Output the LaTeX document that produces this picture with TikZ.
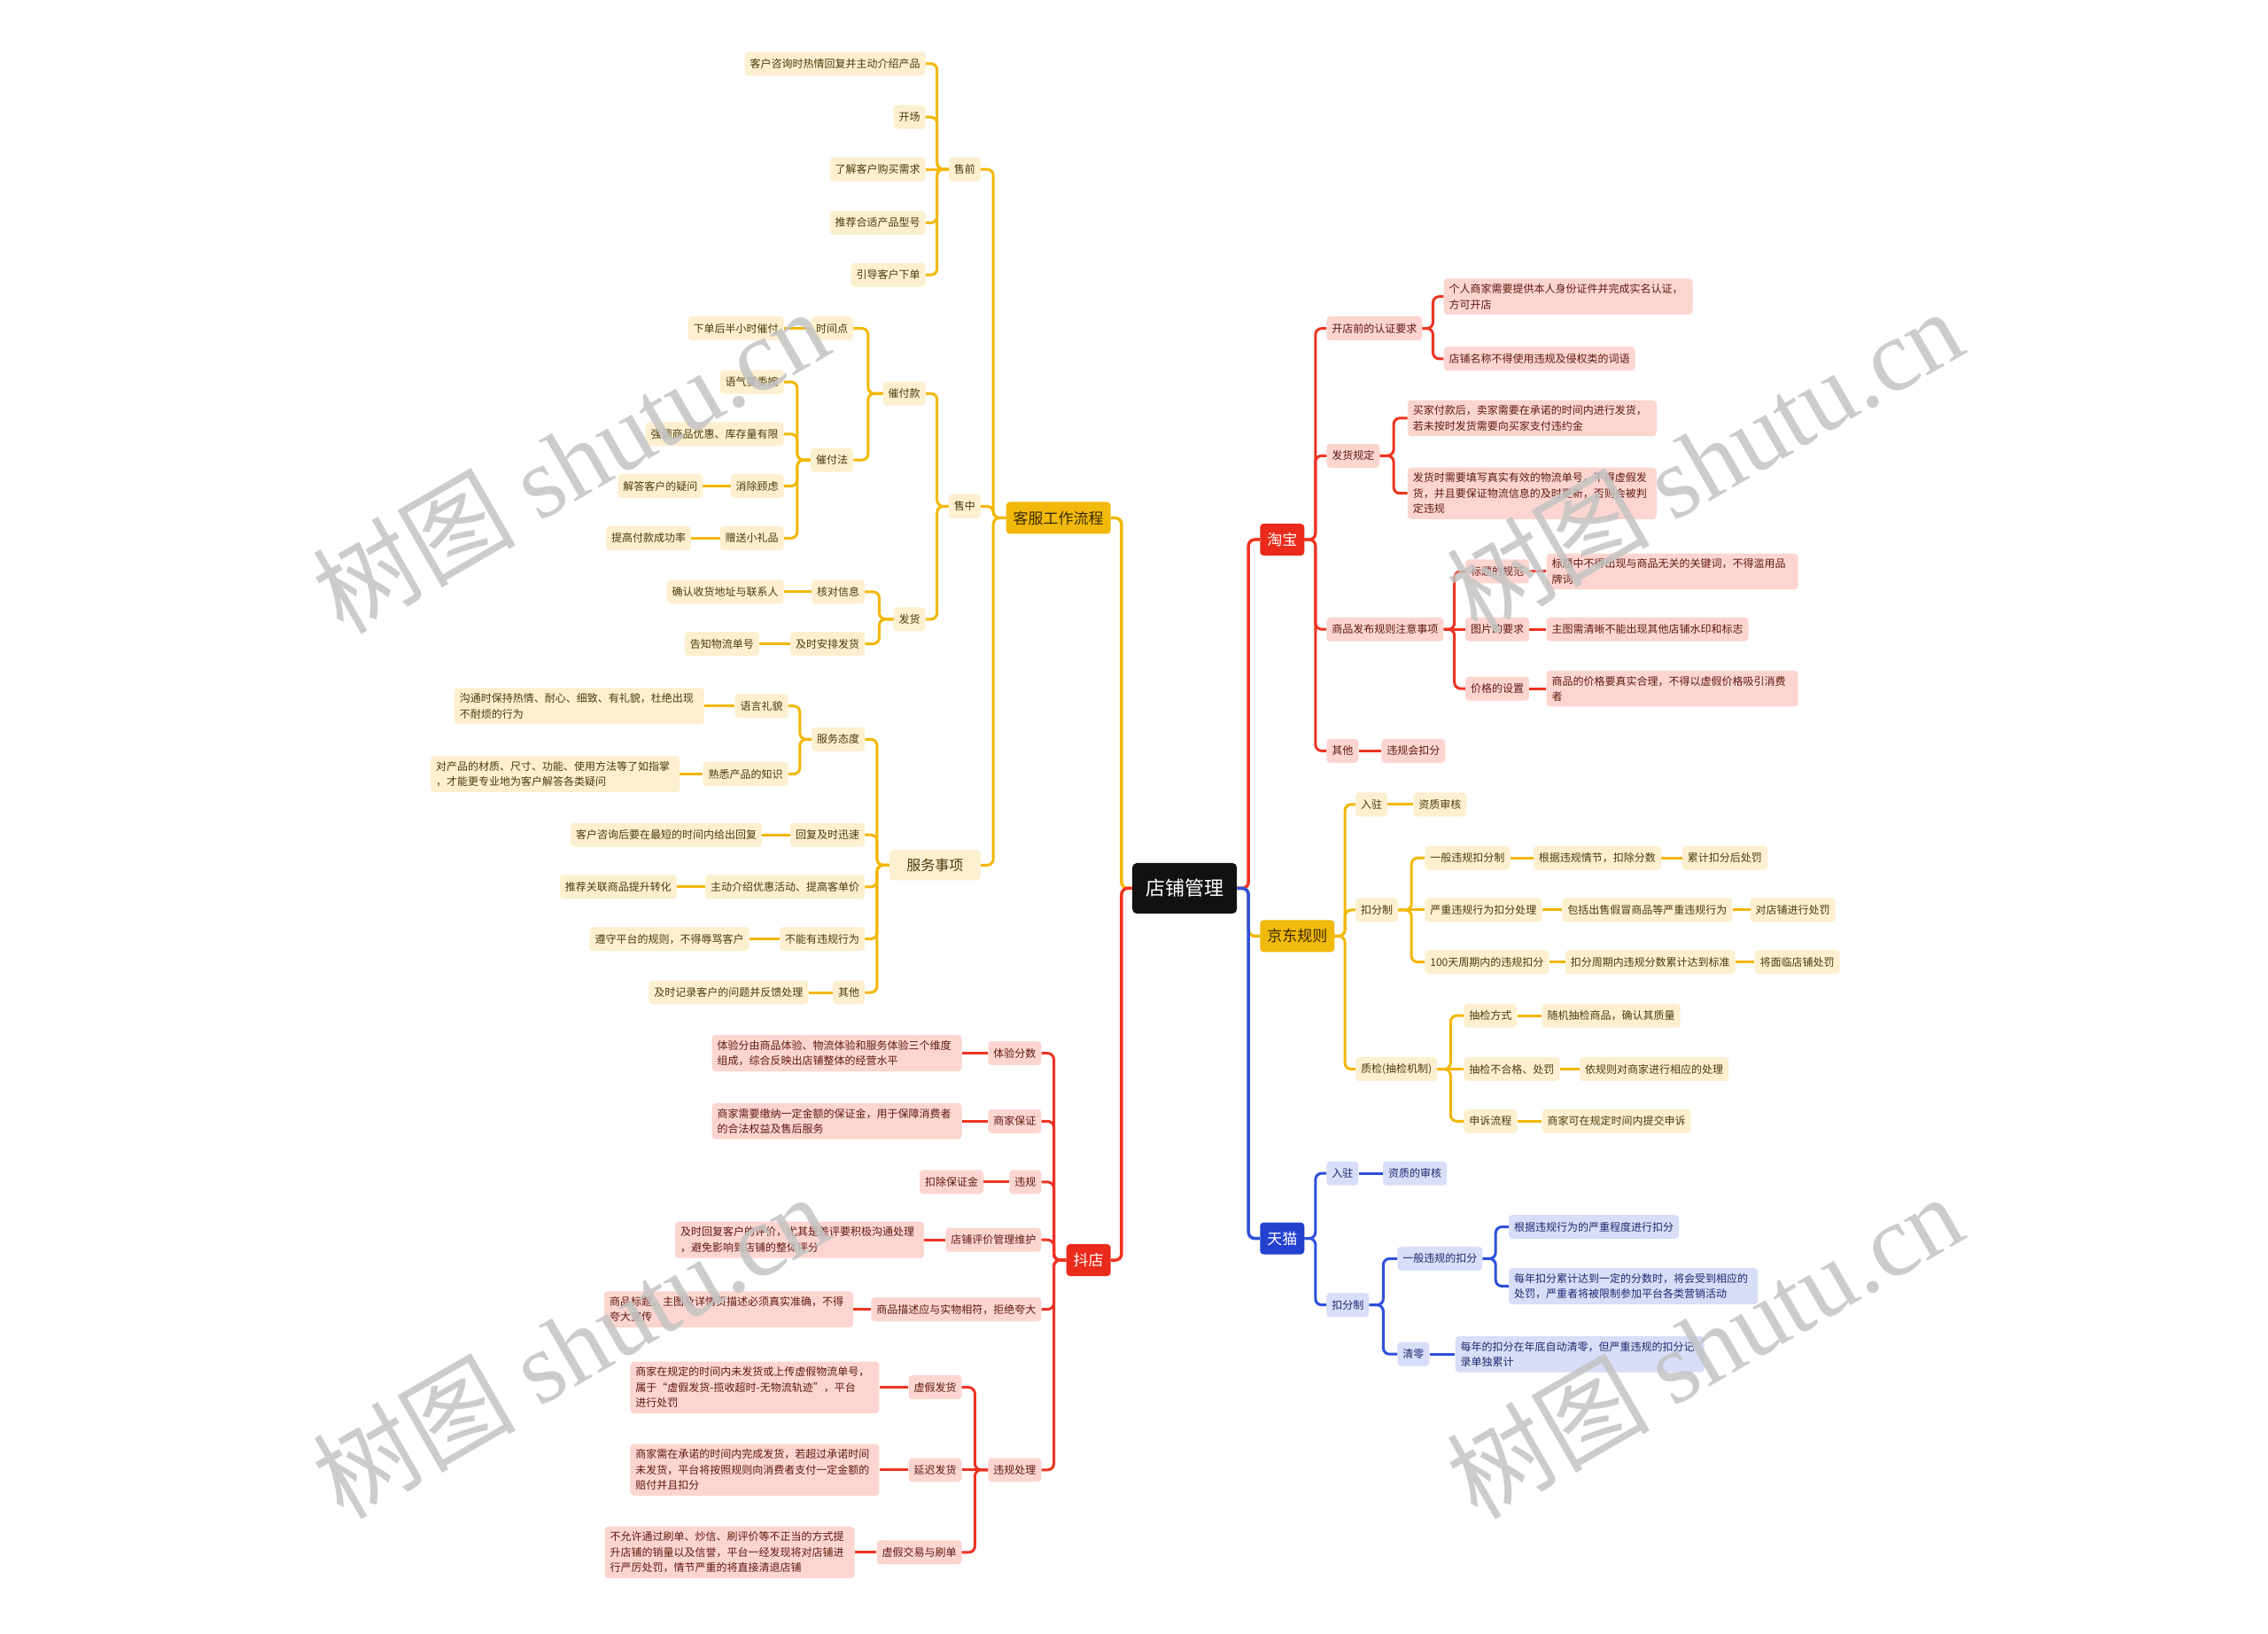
\documentclass[tikz,border=0pt]{standalone}
\usepackage{fontspec}
\setmainfont{Noto Sans CJK SC}
\newfontfamily\wmlat{Liberation Serif}
\usetikzlibrary{calc}
\definecolor{yfill}{HTML}{FDF0D0}
\definecolor{ytext}{HTML}{4A3A0C}
\definecolor{yline}{HTML}{F2B705}
\definecolor{ymain}{HTML}{F0B90B}
\definecolor{rfill}{HTML}{FDD5D0}
\definecolor{rtext}{HTML}{5E1A12}
\definecolor{rline}{HTML}{EE3322}
\definecolor{rmain}{HTML}{EA2A1A}
\definecolor{bfill}{HTML}{D8DDF8}
\definecolor{btext}{HTML}{1E2A6E}
\definecolor{bline}{HTML}{2E4FDC}
\definecolor{bmain}{HTML}{2341CF}
\definecolor{wmc}{HTML}{C4C4C4}
\begin{document}
\begin{tikzpicture}[x=1.6327pt, y=-1.6327pt,
  base/.style={rounded corners=4pt, inner xsep=6pt, inner ysep=6pt, minimum height=27pt, font=\fontsize{12}{17.5}\selectfont, align=left},
  ny/.style={base, fill=yfill, text=ytext},
  nr/.style={base, fill=rfill, text=rtext},
  nb/.style={base, fill=bfill, text=btext},
  le/.style={anchor=east}, ri/.style={anchor=west},
  tw/.style={text width=#1pt},
  lone/.style={rounded corners=4pt, inner xsep=8pt, minimum height=36pt, font=\fontsize{17}{20}\selectfont},
  l1y/.style={lone, fill=ymain, text={rgb,255:red,59;green,42;blue,0}},
  l1r/.style={lone, fill=rmain, text=white},
  l1b/.style={lone, fill=bmain, text=white},
  rootnode/.style={fill={rgb,255:red,17;green,17;blue,17}, text=white, rounded corners=5pt, minimum width=118pt, minimum height=57pt, font=\fontsize{22}{26}\selectfont},
  elbow/.style={to path={let \p1=(\tikztostart), \p2=(\tikztotarget) in -- ({(\x1+\x2)/2},\y1) |- (\tikztotarget)}},
  cy/.style={draw=yline, line width=3pt, rounded corners=7pt},
  cr/.style={draw=rline, line width=3pt, rounded corners=7pt},
  cb/.style={draw=bline, line width=3pt, rounded corners=7pt},
  wm/.style={text=wmc, opacity=0.85, font=\fontsize{115}{120}\selectfont, rotate=30}
]
\useasboundingbox[fill=white] (0,0) rectangle (1568,1129);

% root and level 1
\node[rootnode] (root) at (819,614) {店铺管理};
\node[l1y, anchor=east] (kf) at (768,358) {客服工作流程};
\node[l1r, anchor=west] (tb) at (871,373) {淘宝};
\node[l1y, anchor=west] (jd) at (871,647) {京东规则};
\node[l1b, anchor=west] (tm) at (871,856) {天猫};
\node[l1r, anchor=east] (dd) at (768,871) {抖店};

% 客服工作流程
\node[ny,le] (sq) at (678,117) {售前};
\node[ny,le] (sq1) at (640,44) {客户咨询时热情回复并主动介绍产品};
\node[ny,le] (sq2) at (640,81) {开场};
\node[ny,le] (sq3) at (640,117) {了解客户购买需求};
\node[ny,le] (sq4) at (640,154) {推荐合适产品型号};
\node[ny,le] (sq5) at (640,190) {引导客户下单};

\node[ny,le] (sz) at (678,350) {售中};
\node[ny,le] (fk) at (640,272) {催付款};
\node[ny,le] (fh) at (640,428) {发货};
\node[ny,le] (fa) at (590,227) {时间点};
\node[ny,le] (fa1) at (542,227) {下单后半小时催付};
\node[ny,le] (fb) at (590,318) {催付法};
\node[ny,le] (fb1) at (542,264) {语气要委婉};
\node[ny,le] (fb2) at (542,300) {强调商品优惠、库存量有限};
\node[ny,le] (fb3) at (542,336) {消除顾虑};
\node[ny,le] (fb3a) at (486,336) {解答客户的疑问};
\node[ny,le] (fb4) at (542,372) {赠送小礼品};
\node[ny,le] (fb4a) at (478,372) {提高付款成功率};
\node[ny,le] (fc1) at (598,409) {核对信息};
\node[ny,le] (fc1a) at (542,409) {确认收货地址与联系人};
\node[ny,le] (fc2) at (598,445) {及时安排发货};
\node[ny,le] (fc2a) at (525,445) {告知物流单号};

\node[ny,le,font=\fontsize{16}{19}\selectfont,minimum width=103pt,minimum height=34pt] (fw) at (678,598) {服务事项};
\node[ny,le] (fd) at (598,511) {服务态度};
\node[ny,le] (fd1) at (545,488) {语言礼貌};
\node[ny,le,tw=270] (fd1a) at (487,488) {沟通时保持热情、耐心、细致、有礼貌，杜绝出现\\不耐烦的行为};
\node[ny,le] (fd2) at (545,535) {熟悉产品的知识};
\node[ny,le,tw=269] (fd2a) at (470,535) {对产品的材质、尺寸、功能、使用方法等了如指掌\\，才能更专业地为客户解答各类疑问};
\node[ny,le] (fe) at (598,577) {回复及时迅速};
\node[ny,le] (fe1) at (527,577) {客户咨询后要在最短的时间内给出回复};
\node[ny,le] (ff) at (598,613) {主动介绍优惠活动、提高客单价};
\node[ny,le] (ff1) at (468,613) {推荐关联商品提升转化};
\node[ny,le] (fg) at (598,649) {不能有违规行为};
\node[ny,le] (fg1) at (518,649) {遵守平台的规则，不得辱骂客户};
\node[ny,le] (fh2) at (598,686) {其他};
\node[ny,le] (fh2a) at (559,686) {及时记录客户的问题并反馈处理};

% 抖店
\node[nr,le] (da) at (720,728) {体验分数};
\node[nr,le,tw=270] (da1) at (665,728) {体验分由商品体验、物流体验和服务体验三个维度\\组成，综合反映出店铺整体的经营水平};
\node[nr,le] (db) at (720,775) {商家保证};
\node[nr,le,tw=270] (db1) at (665,775) {商家需要缴纳一定金额的保证金，用于保障消费者\\的合法权益及售后服务};
\node[nr,le] (dc) at (720,817) {违规};
\node[nr,le] (dc1) at (680,817) {扣除保证金};
\node[nr,le] (dl) at (720,857) {店铺评价管理维护};
\node[nr,le,tw=269] (dl1) at (639,857) {及时回复客户的评价，尤其是差评要积极沟通处理\\，避免影响到店铺的整体评分};
\node[nr,le] (dm) at (720,905) {商品描述应与实物相符，拒绝夸大};
\node[nr,le,tw=269] (dm1) at (590,905) {商品标题、主图及详情页描述必须真实准确，不得\\夸大宣传};
\node[nr,le] (dn) at (720,1016) {违规处理};
\node[nr,le] (dn1) at (665,959) {虚假发货};
\node[nr,le,tw=269] (dn1a) at (608,959) {商家在规定的时间内未发货或上传虚假物流单号，\\属于“虚假发货-揽收超时-无物流轨迹”，平台\\进行处罚};
\node[nr,le] (dn2) at (665,1016) {延迟发货};
\node[nr,le,tw=269] (dn2a) at (608,1016) {商家需在承诺的时间内完成发货，若超过承诺时间\\未发货，平台将按照规则向消费者支付一定金额的\\赔付并且扣分};
\node[nr,le] (dn3) at (665,1073) {虚假交易与刷单};
\node[nr,le,tw=270] (dn3a) at (591,1073) {不允许通过刷单、炒信、刷评价等不正当的方式提\\升店铺的销量以及信誉，平台一经发现将对店铺进\\行严厉处罚，情节严重的将直接清退店铺};

% 淘宝
\node[nr,ri] (ta) at (917,227) {开店前的认证要求};
\node[nr,ri,tw=269] (ta1) at (998,205) {个人商家需要提供本人身份证件并完成实名认证，\\方可开店};
\node[nr,ri] (ta2) at (998,248) {店铺名称不得使用违规及侵权类的词语};
\node[nr,ri] (tq) at (917,315) {发货规定};
\node[nr,ri,tw=269] (tq1) at (973,289) {买家付款后，卖家需要在承诺的时间内进行发货，\\若未按时发货需要向买家支付违约金};
\node[nr,ri,tw=269] (tq2) at (973,341) {发货时需要填写真实有效的物流单号，不得虚假发\\货，并且要保证物流信息的及时更新，否则会被判\\定违规};
\node[nr,ri] (tr) at (917,435) {商品发布规则注意事项};
\node[nr,ri] (tr1) at (1013,395) {标题的规范};
\node[nr,ri,tw=272] (tr1a) at (1069,395) {标题中不得出现与商品无关的关键词，不得滥用品\\牌词};
\node[nr,ri] (tr2) at (1013,435) {图片的要求};
\node[nr,ri] (tr2a) at (1069,435) {主图需清晰不能出现其他店铺水印和标志};
\node[nr,ri] (tr3) at (1013,476) {价格的设置};
\node[nr,ri,tw=272] (tr3a) at (1069,476) {商品的价格要真实合理，不得以虚假价格吸引消费\\者};
\node[nr,ri] (ts) at (917,519) {其他};
\node[nr,ri] (ts1) at (955,519) {违规会扣分};

% 京东规则
\node[ny,ri] (ja) at (937,556) {入驻};
\node[ny,ri] (ja1) at (977,556) {资质审核};
\node[ny,ri] (jb) at (937,629) {扣分制};
\node[ny,ri] (jb1) at (985,593) {一般违规扣分制};
\node[ny,ri] (jb1a) at (1060,593) {根据违规情节，扣除分数};
\node[ny,ri] (jb1b) at (1163,593) {累计扣分后处罚};
\node[ny,ri] (jb2) at (985,629) {严重违规行为扣分处理};
\node[ny,ri] (jb2a) at (1080,629) {包括出售假冒商品等严重违规行为};
\node[ny,ri] (jb2b) at (1210,629) {对店铺进行处罚};
\node[ny,ri] (jb3) at (985,665) {100天周期内的违规扣分};
\node[ny,ri] (jb3a) at (1082,665) {扣分周期内违规分数累计达到标准};
\node[ny,ri] (jb3b) at (1213,665) {将面临店铺处罚};
\node[ny,ri] (jc) at (937,739) {质检(抽检机制)};
\node[ny,ri] (jc1) at (1012,702) {抽检方式};
\node[ny,ri] (jc1a) at (1066,702) {随机抽检商品，确认其质量};
\node[ny,ri] (jc2) at (1012,739) {抽检不合格、处罚};
\node[ny,ri] (jc2a) at (1092,739) {依规则对商家进行相应的处理};
\node[ny,ri] (jc3) at (1012,775) {申诉流程};
\node[ny,ri] (jc3a) at (1066,775) {商家可在规定时间内提交申诉};

% 天猫
\node[nb,ri] (ma) at (917,811) {入驻};
\node[nb,ri] (ma1) at (956,811) {资质的审核};
\node[nb,ri] (mb) at (917,902) {扣分制};
\node[nb,ri] (mb1) at (966,870) {一般违规的扣分};
\node[nb,ri] (mb1a) at (1043,848) {根据违规行为的严重程度进行扣分};
\node[nb,ri,tw=269] (mb1b) at (1043,889) {每年扣分累计达到一定的分数时，将会受到相应的\\处罚，严重者将被限制参加平台各类营销活动};
\node[nb,ri] (mb2) at (966,936) {清零};
\node[nb,ri,tw=269] (mb2a) at (1006,936) {每年的扣分在年底自动清零，但严重违规的扣分记\\录单独累计};

% connectors from root
\draw[cy, line width=3.5pt] (root.west) to[elbow] (kf.east);
\draw[cr, line width=3.5pt] (root.west) to[elbow] (dd.east);
\draw[cr, line width=3.5pt] (root.east) to[elbow] (tb.west);
\draw[cy, line width=3.5pt] (root.east) to[elbow] (jd.west);
\draw[cb, line width=3.5pt] (root.east) to[elbow] (tm.west);

% left yellow (elbow)
\foreach \a/\b in {kf/sq, kf/sz, kf/fw, sq/sq1, sq/sq2, sq/sq4, sq/sq5, sz/fk, sz/fh, fk/fa, fk/fb, fb/fb1, fb/fb2, fb/fb3, fb/fb4, fh/fc1, fh/fc2, fw/fd, fw/fe, fw/ff, fw/fg, fw/fh2, fd/fd1, fd/fd2}
  \draw[cy] (\a.west) to[elbow] (\b.east);
% left yellow (straight)
\foreach \a/\b in {sq/sq3, fa/fa1, fb3/fb3a, fb4/fb4a, fc1/fc1a, fc2/fc2a, fd1/fd1a, fd2/fd2a, fe/fe1, ff/ff1, fg/fg1, fh2/fh2a}
  \draw[cy] (\a.west) -- (\b.east);
% left red
\foreach \a/\b in {dd/da, dd/db, dd/dc, dd/dl, dd/dm, dd/dn, dn/dn1, dn/dn3}
  \draw[cr] (\a.west) to[elbow] (\b.east);
\foreach \a/\b in {da/da1, db/db1, dc/dc1, dl/dl1, dm/dm1, dn/dn2, dn1/dn1a, dn2/dn2a, dn3/dn3a}
  \draw[cr] (\a.west) -- (\b.east);
% right red
\foreach \a/\b in {tb/ta, tb/tq, tb/tr, tb/ts, ta/ta1, ta/ta2, tq/tq1, tq/tq2, tr/tr1, tr/tr3}
  \draw[cr] (\a.east) to[elbow] (\b.west);
\foreach \a/\b in {tr/tr2, tr1/tr1a, tr2/tr2a, tr3/tr3a, ts/ts1}
  \draw[cr] (\a.east) -- (\b.west);
% right yellow
\foreach \a/\b in {jd/ja, jd/jb, jd/jc, jb/jb1, jb/jb3, jc/jc1, jc/jc3}
  \draw[cy] (\a.east) to[elbow] (\b.west);
\foreach \a/\b in {ja/ja1, jb/jb2, jb1/jb1a, jb1a/jb1b, jb2/jb2a, jb2a/jb2b, jb3/jb3a, jb3a/jb3b, jc/jc2, jc1/jc1a, jc2/jc2a, jc3/jc3a}
  \draw[cy] (\a.east) -- (\b.west);
% right blue
\foreach \a/\b in {tm/ma, tm/mb, mb/mb1, mb/mb2, mb1/mb1a, mb1/mb1b}
  \draw[cb] (\a.east) to[elbow] (\b.west);
\foreach \a/\b in {ma/ma1, mb2/mb2a}
  \draw[cb] (\a.east) -- (\b.west);

% watermarks
\node[wm] (wm1) at (394,318) {树图 {\wmlat shutu.cn}};
\node[wm] (wm2) at (1178,318) {树图 {\wmlat shutu.cn}};
\node[wm] (wm3) at (394,930) {树图 {\wmlat shutu.cn}};
\node[wm] (wm4) at (1178,930) {树图 {\wmlat shutu.cn}};
\end{tikzpicture}
\end{document}
